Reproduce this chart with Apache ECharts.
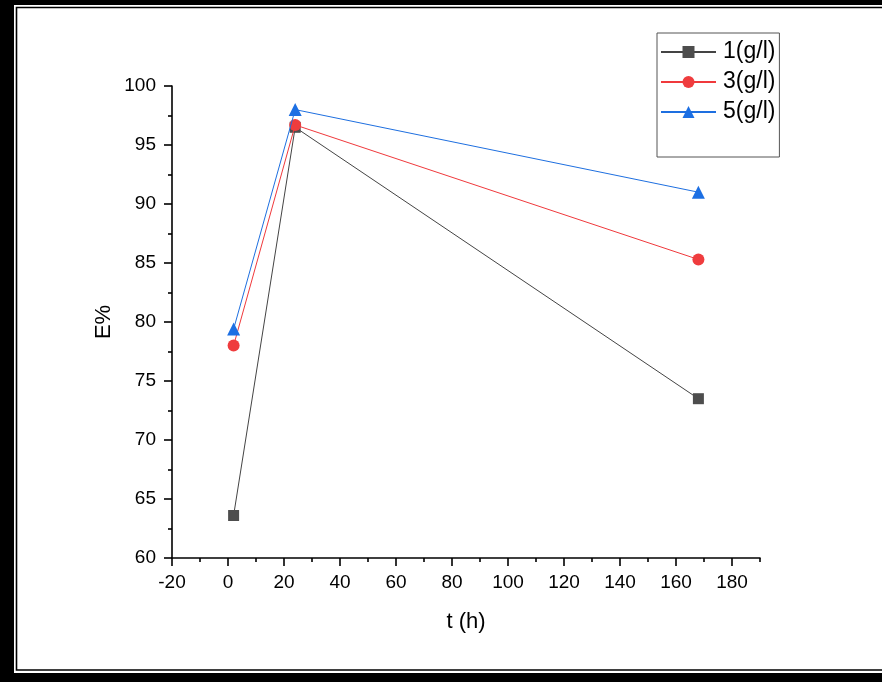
<!DOCTYPE html>
<html>
<head>
<meta charset="utf-8">
<script src="https://cdn.jsdelivr.net/npm/echarts@6/dist/echarts.min.js"></script>
<style>html,body{margin:0;padding:0;background:#fff}#c{width:882px;height:682px}</style>
</head>
<body>
<div id="c"></div>
<script>
const times = [2, 24, 168];
const e1 = [63.6, 96.5, 73.5];
const e3 = [78.0, 96.7, 85.3];
const e5 = [79.4, 98.0, 91.0];
const seriesNames = ['1(g/l)', '3(g/l)', '5(g/l)'];
const xMajor = [-20, 0, 20, 40, 60, 80, 100, 120, 140, 160, 180];
const xMinor = [-10, 10, 30, 50, 70, 90, 110, 130, 150, 170, 190];

const chart = echarts.init(document.getElementById('c'), null, {renderer: 'canvas'});
const font = 'Arial, "Liberation Sans", sans-serif';
const pair = arr => times.map((t, i) => [t, arr[i]]);

chart.setOption({
  animation: false,
  backgroundColor: '#fff',
  grid: {left: 172, top: 86, width: 588, height: 472, containLabel: false},
  graphic: [
    {type: 'rect', shape: {x: 0, y: 0, width: 882, height: 5}, style: {fill: '#000'}},
    {type: 'rect', shape: {x: 0, y: 0, width: 14, height: 682}, style: {fill: '#000'}},
    {type: 'rect', shape: {x: 0, y: 673, width: 882, height: 9}, style: {fill: '#000'}},
    {type: 'rect', shape: {x: 16.5, y: 7.5, width: 900, height: 662.5}, style: {fill: 'none', stroke: '#000', lineWidth: 1.6}}
  ],
  legend: {
    orient: 'vertical',
    left: 657, top: 33,
    width: 124,
    padding: [4, 4, 30, 3],
    borderColor: '#555', borderWidth: 1,
    itemWidth: 55, itemHeight: 15, itemGap: 0,
    textStyle: {fontFamily: font, fontSize: 23, color: '#000', lineHeight: 30, padding: [0, 0, 0, 2]},
    data: seriesNames
  },
  xAxis: [{
    type: 'value', min: -20, max: 190, interval: 20,
    name: 't (h)', nameLocation: 'middle', nameGap: 53, nameMoveOverlap: false,
    nameTextStyle: {fontFamily: font, fontSize: 22, color: '#000'},
    axisLine: {show: true, onZero: false, lineStyle: {color: '#000', width: 1.6}},
    axisTick: {show: true, length: 8, inside: false, customValues: xMajor, lineStyle: {color: '#000', width: 1.6}},
    axisLabel: {show: true, margin: 15, customValues: xMajor, fontFamily: font, fontSize: 19, color: '#000'},
    splitLine: {show: false}
  }, {
    type: 'value', min: -20, max: 190, position: 'bottom',
    axisLine: {show: false},
    axisTick: {show: true, length: 4, customValues: xMinor, lineStyle: {color: '#000', width: 1.6}},
    axisLabel: {show: false},
    splitLine: {show: false}
  }],
  yAxis: {
    type: 'value', min: 60, max: 100, interval: 5,
    name: 'E%', nameLocation: 'middle', nameGap: 57, nameRotate: 90, nameMoveOverlap: false,
    nameTextStyle: {fontFamily: font, fontSize: 22, color: '#000'},
    axisLine: {show: true, onZero: false, lineStyle: {color: '#000', width: 1.6}},
    axisTick: {show: true, length: 8, lineStyle: {color: '#000', width: 1.6}},
    minorTick: {show: true, splitNumber: 2, length: 4, lineStyle: {color: '#000', width: 1.6}},
    axisLabel: {margin: 16, fontFamily: font, fontSize: 19, color: '#000'},
    splitLine: {show: false}
  },
  series: [
    {name: seriesNames[0], type: 'line', data: pair(e1), symbol: 'rect', symbolSize: 11,
     lineStyle: {color: '#444', width: 1}, itemStyle: {color: '#4d4d4d'}, z: 3},
    {name: seriesNames[1], type: 'line', data: pair(e3), symbol: 'circle', symbolSize: 12,
     lineStyle: {color: '#f0393c', width: 1}, itemStyle: {color: '#ef3c3e'}, z: 4},
    {name: seriesNames[2], type: 'line', data: pair(e5), symbol: 'triangle', symbolSize: 13,
     lineStyle: {color: '#1e6fe0', width: 1}, itemStyle: {color: '#1c6fe3'}, z: 5}
  ]
});
</script>
</body>
</html>
